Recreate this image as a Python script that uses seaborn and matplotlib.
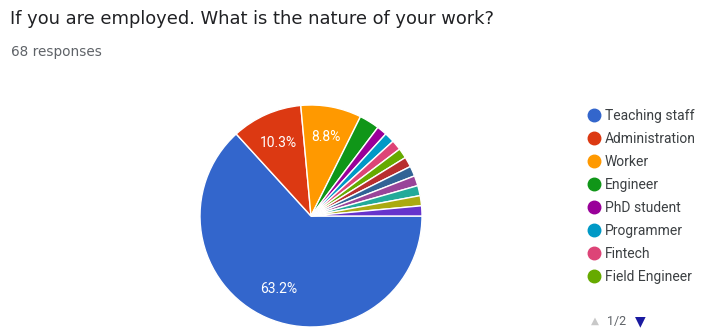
import matplotlib
matplotlib.use("Agg")
import matplotlib.pyplot as plt
from matplotlib.lines import Line2D
import seaborn as sns

sns.set_theme(style="white")
plt.rcParams['font.family'] = ['Roboto', 'DejaVu Sans']

title = "If you are employed. What is the nature of your work?"
subtitle = "68 responses"
categories = ["Teaching staff", "Administration", "Worker", "Engineer", "PhD student",
              "Programmer", "Fintech", "Field Engineer", "Other 9", "Other 10",
              "Other 11", "Other 12", "Other 13", "Other 14"]
counts = [43, 7, 6, 2, 1, 1, 1, 1, 1, 1, 1, 1, 1, 1]
colors = ["#3366cc", "#dc3912", "#ff9900", "#109618", "#990099", "#0099c6",
          "#dd4477", "#66aa00", "#b82e2e", "#316395", "#994499", "#22aa99",
          "#aaaa11", "#6633cc"]
legend_shown = 8

W, H = 706, 334
fig = plt.figure(figsize=(W / 100, H / 100), dpi=100)
fig.patch.set_facecolor("white")

cx, cy, r = 311, 216, 111
ax = fig.add_axes([(cx - r) / W, (H - cy - r) / H, 2 * r / W, 2 * r / H])

def fmt(p):
    return f"{p:.1f}%" if p >= 5 else ""

wedges, texts, autotexts = ax.pie(
    counts, colors=colors, startangle=0, counterclock=False,
    autopct=fmt, pctdistance=0.72, radius=1.0,
    wedgeprops=dict(edgecolor="white", linewidth=1.0),
    textprops=dict(color="white", fontsize=10),
)
ax.set_xlim(-1, 1)
ax.set_ylim(-1, 1)
ax.set_aspect("equal")

fig.text(10 / W, 1 - 19 / H, title, fontsize=12.9, color="#202124", va="center", ha="left",
         family="DejaVu Sans")
fig.text(11 / W, 1 - 52 / H, subtitle, fontsize=9.8, color="#5f6368", va="center", ha="left",
         family="DejaVu Sans")

handles = [Line2D([0], [0], marker="o", linestyle="none", markersize=9,
                  markerfacecolor=c, markeredgecolor=c) for c in colors[:legend_shown]]
leg = fig.legend(handles, categories[:legend_shown], loc="upper left",
                 bbox_to_anchor=(587 / W, 1 - 109 / H), frameon=False,
                 fontsize=10, labelspacing=0.65, handletextpad=0.3,
                 handlelength=1.0, borderaxespad=0, borderpad=0)
for t in leg.get_texts():
    t.set_color("#3c4043")

fig.text(595 / W, 1 - 321 / H, "\u25b2", fontsize=7.5, color="#c8c8c8", va="center", ha="center")
fig.text(617 / W, 1 - 321 / H, "1/2", fontsize=9, color="#5f6368", va="center", ha="center")
fig.text(640 / W, 1 - 321 / H, "\u25bc", fontsize=10, color="#1a1aa0", va="center", ha="center")

fig.savefig("out.png", dpi=100, facecolor="white")
